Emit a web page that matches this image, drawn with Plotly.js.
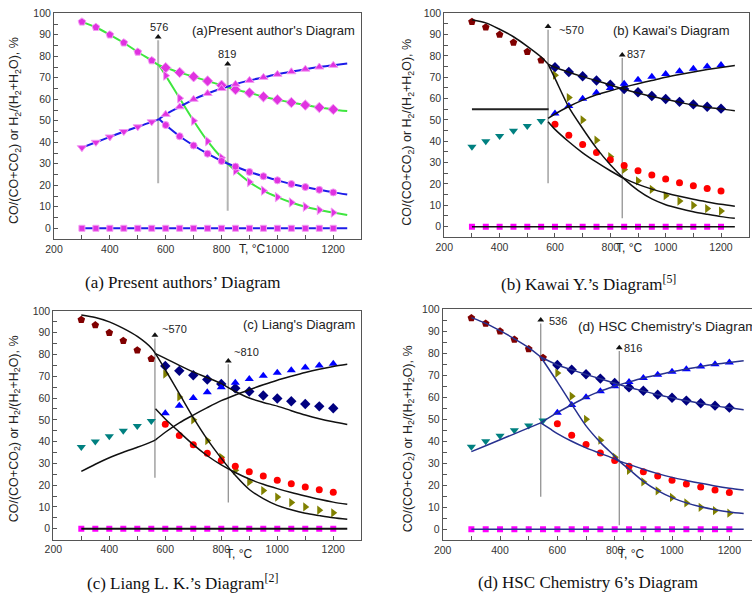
<!DOCTYPE html>
<html><head><meta charset="utf-8">
<script src="https://cdn.plot.ly/plotly-3.0.1.min.js"></script>
<style>html,body{margin:0;padding:0;background:#fff}#chart{width:752px;height:593px}</style>
</head><body><div id="chart"></div>
<script>
// ---------- measured points (same in all four panels) ----------
const T_lo = [300,350,400,450,500,550];
const T_hi = [600,650,700,750,800,850,900,950,1000,1050,1100,1150,1200];
const T_all = [300,350,400,450,500,550,600,650,700,750,800,850,900,950,1000,1050,1100,1150,1200];
const co_fe3o4_fe  = [96,93.5,90,86.3,82,78];
const co_feo_fe    = [74.7,72.5,70.5,68.5,66.5,64.5,63,61.2,59.8,58.5,57.3,56.2,55.3];
const co_fe3o4_feo = [71,60.5,50,40.5,32.8,26.8,21.5,17.5,14.5,12,10,8.5,7.3];
const h2_fe3o4_fe  = [37.5,40,42.5,45,47.2,49.5];
const h2_feo_fe    = [53,56.5,60,62.7,65,67,68.8,70.2,71.6,72.8,74,75,75.8];
const h2_fe3o4_feo = [48,42.8,38.5,34.7,31.3,28.7,26.2,24.2,22.3,20.6,19.2,17.9,16.7];
const zero_pts     = [0,0,0,0,0,0,0,0,0,0,0,0,0,0,0,0,0,0,0];
const zero_T = [300,1250];
const zero_line = [0,0];

// ---------- curves: (a) present authors ----------
const a_pre_T = [300,350,400,450,500,550,576];
const a_br_T  = [576,600,650,700,750,800,850,900,950,1000,1050,1100,1150,1200,1250];
const a_co_pre = [96,93.5,90,86.3,82,78,75.8];
const a_co_up  = [75.8,74.7,72.5,70.5,68.5,66.5,64.5,63,61.2,59.8,58.5,57.3,56.2,55.3,54.5];
const a_co_dn  = [75.8,71,60.5,50,40.5,32.8,26.8,21.5,17.5,14.5,12,10,8.5,7.3,6.2];
const a_h2_pre = [37.5,40,42.5,45,47.2,49.5,50.8];
const a_h2_up  = [50.8,53,56.5,60,62.7,65,67,68.8,70.2,71.6,72.8,74,75,75.8,76.6];
const a_h2_dn  = [50.8,48,42.8,38.5,34.7,31.3,28.7,26.2,24.2,22.3,20.6,19.2,17.9,16.7,15.7];

// ---------- curves: (b) Kawai ----------
const b_pre_T = [300,350,400,450,500,550,575];
const b_br_T  = [575,600,650,700,750,800,850,900,950,1000,1050,1100,1150,1200,1250];
const b_co_pre = [97,95.5,92.5,89,84.5,79.5,76.2];
const b_co_up  = [76.2,74.7,72.4,70.3,68.4,66.4,64.4,62.6,61,59.7,58.3,57,56,55.2,54.3];
const b_co_dn  = [76.2,69.5,56,46,36.8,29,22.4,17,13,10.3,8.5,7,5.8,4.7,3.9];
const b_h2_flat_T = [300,577];
const b_h2_flat = [55,55];
const b_h2_up  = [50.8,52.8,56.3,59.3,61.8,63.7,65.4,67,68.5,70,71.3,72.5,73.6,74.6,75.5];
const b_h2_dn  = [49.2,45.6,39.8,34.6,30.2,26.2,22.6,19.8,17.6,15.8,14.2,12.8,11.6,10.5,9.6];

// ---------- curves: (c) Liang ----------
const c_pre_T = [300,350,400,450,500,550,565];
const c_br_T  = [565,600,650,700,750,800,850,900,950,1000,1050,1100,1150,1200,1250];
const c_co_pre = [98.2,97,95,92,88.3,83,80.4];
const c_co_up  = [80.4,78.2,75,72,69.4,66.6,63,60,58,56.3,54.2,52.2,50.5,49.1,47.9];
const c_co_dn  = [80.4,73,62,51,41,32.3,24.5,18,13.8,10.7,8.7,7.1,6,5,4.3];
const c_h2_pre = [26.3,29.6,32.6,35.1,37.4,39.9,40.8];
const c_h2_up  = [40.8,44.3,48.6,52.2,55.6,58.8,61.4,63.8,66.1,68.2,70,71.7,73.2,74.5,75.5];
const c_h2_dn  = [55.1,50.4,44.4,38.6,33.5,29.3,25.8,22.8,20.4,18.4,16.6,15,13.5,12.2,11.2];

// ---------- curves: (d) HSC Chemistry ----------
const d_pre_T = [300,350,400,450,500,542];
const d_up_T  = [542,600,650,700,750,800,850,900,950,1000,1050,1100,1150,1200,1250];
const d_dn_T  = [542,600,650,700,750,800,816,850,900,950,1000,1050,1100,1150,1200,1250];
const d_h2dn_T = [542,575,600,650,700,750,800,816,850,900,950,1000,1050,1100,1150,1200,1250];
const d_co_pre = [96.2,93.6,90.3,86.6,82.6,78.3];
const d_co_up  = [78.3,74.7,72.5,70.4,68.4,66.4,64.5,62.8,61.2,59.8,58.4,57.2,56.1,55.2,54.3];
const d_co_dn  = [78.3,67,56.8,47,39.5,33.2,31,27.3,21.8,17.6,14.4,12,10.2,8.9,7.9,7.2];
const d_h2_pre = [35.3,38,40.7,43.4,46.1,48.4];
const d_h2_up  = [48.4,53,56.6,60,62.8,65,67,68.8,70.2,71.6,72.8,74,75,75.8,76.6];
const d_h2_dn  = [48.4,45.6,43.5,40,37,34.5,32,31,29.5,27.3,25.3,23.6,22.2,20.9,19.7,18.7,17.9];

// ---------- arrows and labels ----------
const arrowT    = [[573,822],[575,843],[563,825],[542,816]];
const arrowLo   = [[21,8.2],[20.3,3.9],[23.4,12],[14.8,1.8]];
const arrowHi   = [[89,76.4],[93.8,80.5],[88.8,77],[95.1,82.5]];
const arrowText = [['576','819'],['~570','837'],['~570','~810'],['536','816']];
const labelT    = [[577,819],[606,853],[581,837],[565,824]];
const labelY    = [[93.5,81],[92.2,81],[91.9,81.2],[94.7,82.5]];
const panelTitles = ["(a)Present author's Diagram","(b) Kawai's Diagram","(c) Liang's Diagram","(d) HSC Chemistry's Diagram"];
const captions = ["(a) Present authors’ Diagram","(b) Kawai Y.’s Diagram<sup>[5]</sup>","(c) Liang L. K.’s Diagram<sup>[2]</sup>","(d) HSC Chemistry 6’s Diagram"];

// ---------- layout of the four panels ----------
const panels = [
  {sx:'',  xd:[0.0718,0.4803], yd:[0.5969,0.9776], xr:[200,1300], mirrorY:true},
  {sx:'2', xd:[0.5908,0.9956], yd:[0.5998,0.9776], xr:[200,1300], mirrorY:true},
  {sx:'3', xd:[0.0709,0.4804], yd:[0.0901,0.4756], xr:[200,1300], mirrorY:true},
  {sx:'4', xd:[0.5887,1.0],    yd:[0.0889,0.4784], xr:[200,1279], mirrorY:false}
];
const titlePos = [{x:357,y:30,anchor:'right',s:13},{x:732,y:30.7,anchor:'right',s:13},{x:357,y:324.3,anchor:'right',s:13},{x:576,y:326.7,anchor:'left',s:13.6}];
const capPos = [{x:182.7,y:282.7},{x:588.5,y:282.7},{x:182,y:581.7},{x:587.7,y:582.7}];
const yTitlePos = [{x:15,y:131},{x:408,y:131.7},{x:15,y:429.3},{x:409,y:439.3}];
const xTitlePos = [{x:251.5,y:249.3},{x:629,y:248.3},{x:238.5,y:554.3},{x:631,y:554}];

const W = 752, H = 593;
const SANS = 'Liberation Sans, Arial, sans-serif';
const SERIF = 'Liberation Serif, Times New Roman, serif';

const series = [
  {x:T_lo,  y:co_fe3o4_fe,  sym:'pentagon',       col:'#800000', size:8},
  {x:T_hi,  y:co_feo_fe,    sym:'diamond',        col:'#000080', size:8},
  {x:T_hi,  y:co_fe3o4_feo, sym:'triangle-right', col:'#808000', size:8},
  {x:T_lo,  y:h2_fe3o4_fe,  sym:'triangle-down',  col:'#008080', size:8},
  {x:T_hi,  y:h2_feo_fe,    sym:'triangle-up',    col:'#0000ff', size:8},
  {x:T_hi,  y:h2_fe3o4_feo, sym:'circle',         col:'#ff0000', size:7},
  {x:T_all, y:zero_pts,     sym:'square',         col:'#ff00ff', size:6}
];

const green = '#3fe63f', blue = '#1c1ce8', navy = '#27318f';
const curves = [
  [ {x:a_pre_T,y:a_co_pre,c:green},{x:a_br_T,y:a_co_up,c:green},{x:a_br_T,y:a_co_dn,c:green},
    {x:a_pre_T,y:a_h2_pre,c:blue},{x:a_br_T,y:a_h2_up,c:blue},{x:a_br_T,y:a_h2_dn,c:blue},{x:zero_T,y:zero_line,c:blue} ],
  [ {x:b_pre_T,y:b_co_pre,c:'#111'},{x:b_br_T,y:b_co_up,c:'#111'},{x:b_br_T,y:b_co_dn,c:'#111'},
    {x:b_h2_flat_T,y:b_h2_flat,c:'#222',w:2},{x:b_br_T,y:b_h2_up,c:'#111'},{x:b_br_T,y:b_h2_dn,c:'#111'},{x:zero_T,y:zero_line,c:'#111'} ],
  [ {x:c_pre_T,y:c_co_pre,c:'#111'},{x:c_br_T,y:c_co_up,c:'#111'},{x:c_br_T,y:c_co_dn,c:'#111'},
    {x:c_pre_T,y:c_h2_pre,c:'#111'},{x:c_br_T,y:c_h2_up,c:'#111'},{x:c_br_T,y:c_h2_dn,c:'#111'},{x:zero_T,y:zero_line,c:'#111',w:2} ],
  [ {x:d_pre_T,y:d_co_pre,c:navy},{x:d_up_T,y:d_co_up,c:navy},{x:d_dn_T,y:d_co_dn,c:navy},
    {x:d_pre_T,y:d_h2_pre,c:navy},{x:d_up_T,y:d_h2_up,c:navy},{x:d_h2dn_T,y:d_h2_dn,c:navy},{x:zero_T,y:zero_line,c:navy} ]
];

const data = [];
const layout = {width:W, height:H, margin:{l:0,r:0,t:0,b:0}, paper_bgcolor:'#fff', plot_bgcolor:'#fff',
  showlegend:false, font:{family:SANS, color:'#222'}, annotations:[], shapes:[]};

function addCurves(i, xa, ya){
  curves[i].forEach(c=>{
    data.push({type:'scatter', mode:'lines', x:c.x, y:c.y, xaxis:xa, yaxis:ya, hoverinfo:'skip',
      line:{color:c.c, width:c.w || (i===0?2:1.5), shape: c.x.length>2?'spline':'linear', smoothing:0.8}});
  });
}
function addPoints(i, xa, ya){
  series.forEach(s=>{
    const mk = i===0 ? {symbol:s.sym, size:s.size, color:'#e032e0', line:{color:'#f49af4', width:1}}
                     : {symbol:s.sym, size:s.size, color:s.col, line:{width:0}};
    data.push({type:'scatter', mode:'markers', x:s.x, y:s.y, xaxis:xa, yaxis:ya, marker:mk, hoverinfo:'skip'});
  });
}

panels.forEach((p,i)=>{
  const xa = 'x'+p.sx, ya = 'y'+p.sx;
  const axCommon = {showline:true, linecolor:'#555', linewidth:1, ticks:'inside', ticklen:4, tickcolor:'#555',
    showgrid:false, zeroline:false, tickfont:{family:SANS, size:10.5, color:'#333'}};
  layout['xaxis'+p.sx] = Object.assign({}, axCommon, {domain:p.xd, range:p.xr, anchor:ya, mirror:true,
    tick0:200, dtick:200, minor:{dtick:100, ticks:'inside', ticklen:4, tickcolor:'#555'}});
  layout['yaxis'+p.sx] = Object.assign({}, axCommon, {domain:p.yd, range:[-5,100], anchor:xa, mirror:p.mirrorY,
    tick0:0, dtick:10, minor:{dtick:5, ticks:'inside', ticklen:4, tickcolor:'#555'}});

  // arrow shafts (gray vertical lines)
  for(let k=0;k<2;k++){
    layout.shapes.push({type:'line', xref:xa, yref:ya, x0:arrowT[i][k], x1:arrowT[i][k], y0:arrowLo[i][k], y1:arrowHi[i][k]-1.5,
      line:{color: i===0?'#b4b4b4':'#8a8a8a', width: i===0?2:1.2}, layer:'below'});
  }

  if(i===0){ addCurves(i,xa,ya); addPoints(i,xa,ya); } else { addPoints(i,xa,ya); addCurves(i,xa,ya); }

  // arrow heads
  data.push({type:'scatter', mode:'markers', x:arrowT[i], y:arrowHi[i], xaxis:xa, yaxis:ya, hoverinfo:'skip',
    marker:{symbol:'triangle-up', size:6, color:'#111', line:{width:0}}});

  const A = layout.annotations;
  for(let k=0;k<2;k++){
    A.push({xref:xa, yref:ya, x:labelT[i][k], y:labelY[i][k], text:arrowText[i][k], showarrow:false,
      xanchor: i===0?'center':'left', yanchor:'middle', font:{family:SANS, size:11, color:'#222'}});
  }
  A.push({xref:'paper', yref:'paper', x:titlePos[i].x/W, y:1-titlePos[i].y/H, text:panelTitles[i], showarrow:false,
    xanchor:titlePos[i].anchor, yanchor:'middle', font:{family:SANS, size:titlePos[i].s, color:'#222'}});
  A.push({xref:'paper', yref:'paper', x:capPos[i].x/W, y:1-capPos[i].y/H, text:captions[i], showarrow:false,
    xanchor:'center', yanchor:'middle', font:{family:SERIF, size:17, color:'#111'}});
  A.push({xref:'paper', yref:'paper', x:yTitlePos[i].x/W, y:1-yTitlePos[i].y/H,
    text:'CO/(CO+CO<sub>2</sub>) or H<sub>2</sub>/(H<sub>2</sub>+H<sub>2</sub>O), %', textangle:-90, showarrow:false,
    xanchor:'center', yanchor:'middle', font:{family:SANS, size:12.5, color:'#222'}});
  A.push({xref:'paper', yref:'paper', x:xTitlePos[i].x/W, y:1-xTitlePos[i].y/H, text:'T, °C', showarrow:false,
    xanchor:'center', yanchor:'middle', font:{family:SANS, size:12, color:'#222'}});
});

Plotly.newPlot('chart', data, layout, {displayModeBar:false, staticPlot:true});
</script></body></html>
